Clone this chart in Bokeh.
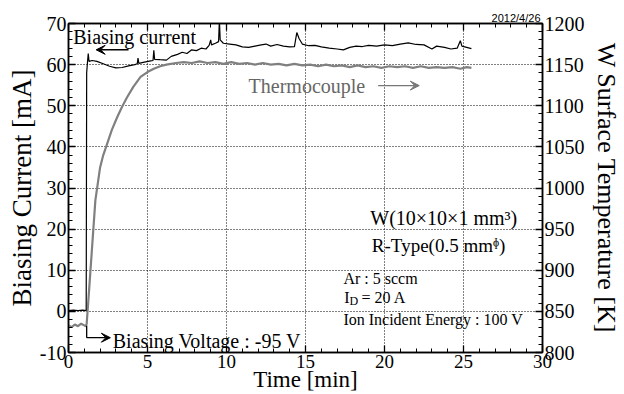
from bokeh.plotting import figure
from bokeh.models import (Range1d, LinearAxis, Label, Arrow, VeeHead,
                          SingleIntervalTicker)
from bokeh.embed import file_html
from bokeh.resources import INLINE

# ---- data ----
# Biasing current [mA] vs time [min]
cur_time = [0, 0.3, 0.6, 0.9, 1.12, 1.15, 1.2, 1.25, 1.3, 1.5, 1.8, 2.2, 2.6, 3.0, 3.4,
            3.8, 4.2, 4.35, 4.4, 4.45, 4.8, 5.2, 5.35, 5.4, 5.45, 5.8, 6.2, 6.5, 6.9,
            7.2, 7.5, 7.8, 8.1, 8.4, 8.7, 8.9, 9.0, 9.05, 9.3, 9.5, 9.55, 9.6, 9.8,
            10.2, 10.6, 11.0, 11.4, 11.8, 12.2, 12.5, 12.8, 13.2, 13.6, 14.0, 14.3,
            14.45, 14.6, 14.8, 15.2, 15.6, 16.0, 16.5, 17.0, 17.4, 17.8, 18.2, 18.6,
            19.0, 19.5, 20.0, 20.5, 21.0, 21.5, 22.0, 22.5, 23.0, 23.3, 23.8, 24.2,
            24.6, 24.8, 24.9, 25.2, 25.5]
cur_mA = [0.2, 0.3, 0.2, 0.3, 0.2, 58.0, 60.5, 62.7, 60.8, 61.0, 60.8, 60.2, 59.6, 59.2,
          59.3, 59.7, 60.0, 60.2, 61.6, 60.3, 60.6, 60.9, 61.0, 63.5, 61.3, 61.2, 61.1,
          62.0, 62.5, 63.0, 62.7, 63.6, 63.4, 64.0, 63.8, 64.7, 66.0, 64.8, 65.2, 65.6,
          71.0, 66.0, 65.2, 65.0, 64.8, 64.3, 64.2, 64.5, 64.8, 65.0, 64.5, 64.9, 64.5,
          64.3, 64.4, 67.8, 66.3, 65.0, 64.6, 64.7, 64.3, 64.0, 63.8, 63.6, 64.2, 64.5,
          64.4, 64.7, 64.5, 64.8, 64.6, 65.0, 65.3, 64.9, 64.8, 63.8, 64.5, 64.2, 63.8,
          64.0, 65.8, 64.5, 64.2, 63.9]

# Thermocouple: W surface temperature [K] vs time [min]
tc_time = [0, 0.2, 0.4, 0.6, 0.8, 1.0, 1.1, 1.15, 1.3, 1.5, 1.7, 1.85, 2.0, 2.2, 2.45,
           2.75, 3.08, 3.4, 3.7, 4.1, 4.56, 5.0, 5.4, 5.8, 6.2, 6.8, 7.3, 7.8, 8.3,
           8.8, 9.3, 9.8, 10.3, 10.8, 11.3, 11.8, 12.3, 12.8, 13.3, 13.8, 14.3, 14.8,
           15.3, 15.8, 16.3, 16.8, 17.3, 17.8, 18.3, 18.8, 19.3, 19.8, 20.3, 20.8,
           21.3, 21.8, 22.3, 22.8, 23.3, 23.8, 24.3, 24.8, 25.2, 25.5]
tc_K = [833, 831, 834, 832, 835, 833, 832, 835, 875, 930, 985, 1005, 1025, 1040, 1054,
        1071, 1086, 1099, 1110, 1123, 1135, 1141, 1145, 1148, 1150, 1152, 1153, 1152,
        1154, 1152, 1153, 1151, 1153, 1151, 1152, 1150, 1152, 1150, 1151, 1149, 1151,
        1149, 1150, 1148, 1150, 1148, 1149, 1147, 1149, 1147, 1148, 1146, 1148, 1147,
        1148, 1146, 1148, 1146, 1147, 1146, 1147, 1145, 1147, 1146]

x_ticks = [0, 5, 10, 15, 20, 25, 30]
left_ticks = [-10, 0, 10, 20, 30, 40, 50, 60, 70]
right_ticks = [800, 850, 900, 950, 1000, 1050, 1100, 1150, 1200]

SERIF = "Liberation Serif"

p = figure(width=624, height=394, x_range=Range1d(0, 30), y_range=Range1d(-10, 70),
           output_backend="svg", toolbar_location=None,
           min_border_left=68, min_border_right=82, min_border_top=23,
           min_border_bottom=42, background_fill_color="white",
           border_fill_color="white")
p.extra_y_ranges = {"temp": Range1d(800, 1200)}
p.outline_line_color = "black"
p.outline_line_width = 1.5

p.title.text = "2012/4/26"
p.title.align = "right"
p.title.text_font = "Liberation Sans"
p.title.text_font_size = "11px"
p.title.text_font_style = "normal"
p.title.text_color = "black"
p.title.standoff = 0
p.title.offset = 2

xt = SingleIntervalTicker(interval=5, num_minor_ticks=5)
yt = SingleIntervalTicker(interval=10, num_minor_ticks=5)
rt = SingleIntervalTicker(interval=50, num_minor_ticks=5)


def style_axis(ax, size):
    ax.axis_line_color = "black"
    ax.axis_line_width = 1.5
    ax.major_tick_in = 7
    ax.major_tick_out = 0
    ax.minor_tick_in = 4
    ax.minor_tick_out = 0
    ax.major_tick_line_color = "black"
    ax.minor_tick_line_color = "black"
    ax.major_tick_line_width = 1.3
    ax.minor_tick_line_width = 1.0
    ax.major_label_text_font = SERIF
    ax.major_label_text_font_size = size
    ax.major_label_text_color = "black"
    ax.axis_label_text_font = SERIF
    ax.axis_label_text_font_style = "normal"
    ax.axis_label_text_color = "black"


xa = p.xaxis[0]
xa.ticker = xt
style_axis(xa, "19px")
xa.axis_label = "Time [min]"
xa.axis_label_text_font_size = "23px"
xa.major_label_standoff = 2
xa.axis_label_standoff = -4

ya = p.yaxis[0]
ya.ticker = yt
style_axis(ya, "20px")
ya.major_label_overrides = {v: str(v) for v in left_ticks}
ya.axis_label = "Biasing Current [mA]"
ya.axis_label_text_font_size = "27px"
ya.major_label_standoff = 2
ya.axis_label_standoff = 0

ra = LinearAxis(y_range_name="temp", ticker=rt)
style_axis(ra, "20px")
ra.axis_label = "W Surface Temperature [K]"
ra.axis_label_text_font_size = "26px"
ra.major_label_standoff = 2
ra.axis_label_standoff = 4
p.add_layout(ra, "right")

ta = LinearAxis(ticker=xt)
style_axis(ta, "0px")
ta.major_label_standoff = 0
ta.major_label_text_alpha = 0
p.add_layout(ta, "above")

for g, t in ((p.xgrid[0], xt), (p.ygrid[0], yt)):
    g.ticker = t
    g.grid_line_color = "black"
    g.grid_line_dash = "1 2"
    g.grid_line_width = 1

# ---- data lines ----
p.line(tc_time, tc_K, y_range_name="temp", line_color="#808080", line_width=2.2)
p.line(cur_time, cur_mA, line_color="black", line_width=1.2)

# ---- annotations ----
def lab(x, y, text, size, color="black", baseline="middle", align="left", font=SERIF):
    p.add_layout(Label(x=x, y=y, text=text, text_font=font, text_font_size=size,
                       text_color=color, text_baseline=baseline, text_align=align))


lab(0.3, 66.7, "Biasing current", "20px")
p.add_layout(Arrow(x_start=3.8, y_start=63.6, x_end=1.75, y_end=63.6,
                   line_color="black", line_width=1.4,
                   end=VeeHead(size=9, line_color="black", fill_color="black")))

lab(11.4, 54.9, "Thermocouple", "20px", color="#666666")
p.add_layout(Arrow(x_start=19.6, y_start=54.9, x_end=22.2, y_end=54.9,
                   line_color="#777777", line_width=1.3,
                   end=VeeHead(size=9, line_color="#777777", fill_color="#777777")))

lab(2.8, -7.1, "Biasing Voltage : -95 V", "20px")
p.add_layout(Arrow(x_start=1.15, y_start=-3.5, x_end=1.15, y_end=-6.4,
                   line_color="black", line_width=1.3, end=None))
p.add_layout(Arrow(x_start=1.15, y_start=-6.4, x_end=2.65, y_end=-6.4,
                   line_color="black", line_width=1.3,
                   end=VeeHead(size=9, line_color="black", fill_color="black")))

lab(19.1, 22.6, "W(10\u00d710\u00d71 mm\u00b3)", "20px")
lab(19.2, 16.0, "R-Type(0.5 mm\u1db2)", "19px")
lab(17.4, 8.0, "Ar : 5 sccm", "16px")
lab(17.45, 3.4, "I", "16px")
lab(17.78, 2.5, "D", "12px")
lab(18.55, 3.4, "= 20 A", "16px")
lab(17.4, -2.0, "Ion Incident Energy : 100 V", "16px")

open("out.html", "w").write(file_html(p, INLINE))
